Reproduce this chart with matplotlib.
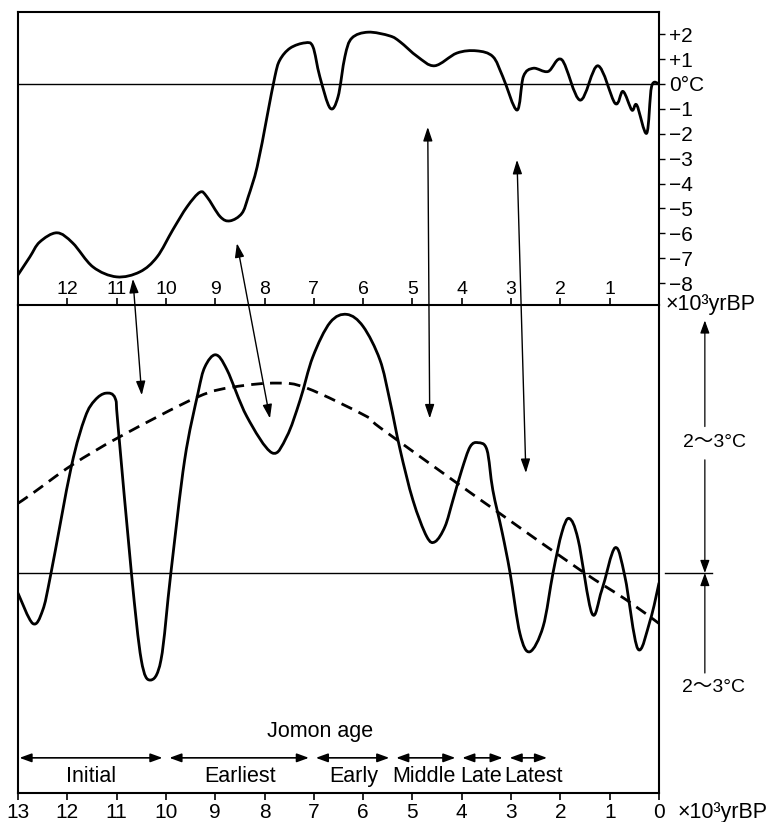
import numpy as np
import matplotlib
matplotlib.use("Agg")
import matplotlib.pyplot as plt
from matplotlib.path import Path
from matplotlib.patches import PathPatch

# fonts: Helvetica-like sans for the text, CJK family for the wave dash
plt.rcParams['font.family'] = ['Liberation Sans', 'Noto Sans CJK JP', 'DejaVu Sans']

####################################################################################################
# Data (x in 10^3 yr BP)
####################################################################################################

# upper panel: temperature curve (deg C)
airYears = [13.0, 12.76, 12.56, 12.21, 11.89, 11.48, 11.0, 10.53, 10.18, 9.86, 9.57, 9.31, 9.17,
            8.9, 8.7, 8.46, 8.33, 8.15, 7.95, 7.79, 7.69, 7.48, 7.18, 7.02, 6.88, 6.67, 6.51,
            6.37, 6.23, 5.9, 5.46, 5.25, 4.9, 4.55, 4.1, 3.7, 3.37, 3.17, 2.88, 2.75, 2.55, 2.25,
            1.97, 1.6, 1.24, 0.89, 0.73, 0.55, 0.45, 0.25, 0.15, 0.0]
airTemps = [-7.67, -6.95, -6.35, -5.98, -6.39, -7.35, -7.75, -7.55, -6.95, -5.86, -4.93, -4.35,
            -4.53, -5.33, -5.5, -5.2, -4.53, -3.33, -1.32, 0.3, 0.96, 1.44, 1.65, 1.5, 0.3, -0.97,
            -0.52, 1.1, 1.84, 2.08, 1.93, 1.69, 1.1, 0.73, 1.24, 1.33, 1.1, 0.3, -1.05, 0.3, 0.63,
            0.5, 0.97, -0.65, 0.73, -0.78, -0.3, -1.05, -0.85, -1.98, -0.1, 0.0]

# lower panel: relative temperature curve
seaYears = [13.0, 12.7, 12.5, 12.33, 11.92, 11.64, 11.44, 11.22, 11.03, 10.97, 10.7, 10.5, 10.32,
            10.1, 9.9, 9.62, 9.35, 9.21, 8.99, 8.76, 8.36, 7.85, 7.55, 7.28, 7.02, 6.67, 6.33,
            6.0, 5.66, 5.46, 5.25, 4.99, 4.71, 4.54, 4.34, 4.18, 4.0, 3.83, 3.67, 3.49, 3.37,
            3.18, 3.02, 2.82, 2.62, 2.35, 2.15, 1.97, 1.82, 1.64, 1.36, 1.16, 0.89, 0.69, 0.43,
            0.18, 0.0]
seaTemps = [-0.2, -0.5, -0.37, 0.0, 1.05, 1.54, 1.71, 1.78, 1.73, 1.45, 0.0, -0.86, -1.06,
            -0.86, 0.0, 1.12, 1.78, 2.04, 2.16, 2.01, 1.55, 1.19, 1.35, 1.71, 2.14, 2.48, 2.56,
            2.44, 2.11, 1.71, 1.22, 0.72, 0.36, 0.31, 0.46, 0.72, 1.02, 1.25, 1.29, 1.22, 0.82,
            0.4, 0.0, -0.6, -0.78, -0.53, 0.0, 0.4, 0.54, 0.33, -0.4, -0.17, 0.25, -0.04, -0.75,
            -0.47, -0.1]

# lower panel: dashed trend
trendYears = [13.0, 12.7, 11.9, 10.93, 9.37, 8.64, 7.75, 7.14, 5.93, 5.66, 4.04, 3.23, 1.6, 0.65, 0.0]
trendTemps = [0.69, 0.79, 1.07, 1.35, 1.74, 1.84, 1.88, 1.83, 1.55, 1.44, 0.87, 0.59, 0.03, -0.27, -0.5]

# axes ticks
topYearTicks = [12, 11, 10, 9, 8, 7, 6, 5, 4, 3, 2, 1]
topTempTicks = [2, 1, 0, -1, -2, -3, -4, -5, -6, -7, -8]
topTempLabels = ['+2', '+1', '0°C', '−1', '−2', '−3', '−4', '−5', '−6', '−7', '−8']
bottomYearTicks = [13, 12, 11, 10, 9, 8, 7, 6, 5, 4, 3, 2, 1, 0]

# Jomon periods
periodNames = ['Initial', 'Earliest', 'Early', 'Middle', 'Late', 'Latest']
periodBounds = [13.0, 10.0, 7.03, 5.4, 4.06, 3.1, 2.27]
periodLabelYears = [11.52, 8.5, 6.2, 4.77, 3.6, 2.54]

# arrows linking the two curves: (year top, temp top, year bottom, temp bottom)
linkArrows = [(10.67, -7.83, 10.49, 1.76),
              (8.56, -6.4, 7.89, 1.53),
              (4.69, -1.73, 4.65, 1.53),
              (2.88, -3.05, 2.70, 0.99)]


####################################################################################################
# Function: smooth curve through traced points (Catmull-Rom as cubic Bezier path)
####################################################################################################
def smoothPath(xs, ys):
    pts = np.column_stack([xs, ys]).astype(float)
    n = len(pts)
    verts = [pts[0]]
    codes = [Path.MOVETO]
    for i in range(n - 1):
        p0 = pts[max(i - 1, 0)]
        p1 = pts[i]
        p2 = pts[i + 1]
        p3 = pts[min(i + 2, n - 1)]
        verts += [p1 + (p2 - p0) / 6.0, p2 - (p3 - p1) / 6.0, p2]
        codes += [Path.CURVE4] * 3
    return Path(verts, codes)


def drawCurve(ax, xs, ys, **kw):
    patch = PathPatch(smoothPath(xs, ys), fill=False, edgecolor='black', joinstyle='round', **kw)
    ax.add_patch(patch)
    return patch


####################################################################################################
# Figure layout
####################################################################################################
fig = plt.figure(figsize=(7.69, 8.22), dpi=100, facecolor='white')
W, H = 769.0, 822.0
left, right = 18 / W, 659 / W
axTop = fig.add_axes([left, 1 - 305 / H, right - left, (305 - 12) / H])
axBot = fig.add_axes([left, 1 - 793 / H, right - left, (793 - 305) / H])

for ax in (axTop, axBot):
    ax.set_xlim(13, 0)
    ax.patch.set_visible(False)
    for s in ax.spines.values():
        s.set_linewidth(1.5)
axTop.set_ylim(-8.88, 2.89)
axBot.set_ylim(-2.178, 2.653)
axBot.spines['top'].set_visible(False)

# upper panel ticks
axTop.set_xticks(topYearTicks)
axTop.set_xticklabels([str(t) for t in topYearTicks])
axTop.tick_params(axis='x', direction='in', length=5, width=1.2, pad=-17, labelsize=14)
axTop.yaxis.tick_right()
axTop.set_yticks(topTempTicks)
axTop.set_yticklabels(topTempLabels)
axTop.tick_params(axis='y', direction='out', length=4.5, width=1.0, pad=3.0, labelsize=15)

# lower panel ticks
axBot.set_xticks(bottomYearTicks)
axBot.set_xticklabels([str(t) for t in bottomYearTicks])
axBot.tick_params(axis='x', direction='out', length=5, width=1.2, pad=2, labelsize=15)
axBot.set_yticks([])

# zero lines
axTop.axhline(0, color='black', lw=1.0)
axBot.axhline(0, color='black', lw=1.0)

# curves
drawCurve(axTop, airYears, airTemps, lw=2.0, capstyle='round')
drawCurve(axBot, seaYears, seaTemps, lw=2.0, capstyle='round')
drawCurve(axBot, trendYears, trendTemps, lw=2.0, capstyle='butt', linestyle=(0, (4.2, 2.6)))

# unit labels
axTop.text(1.0094, 0.002, '×10³yrBP', transform=axTop.transAxes, ha='left', va='center',
           fontsize=15.5)
axBot.text(-0.385, -2.37, '×10³yrBP', ha='left', va='center', fontsize=15.5, clip_on=False)

# right-hand 2~3 C scale
headKw = dict(arrowstyle='-|>,head_length=0.55,head_width=0.2', color='black', lw=0.9,
              shrinkA=0, shrinkB=0, mutation_scale=14)
xr = -0.93
axBot.plot([-0.12, -1.08], [0, 0], color='black', lw=1.0, clip_on=False)
axBot.annotate('', xy=(xr, 2.5), xytext=(xr, 1.45), arrowprops=headKw, annotation_clip=False)
axBot.annotate('', xy=(xr, 0.0), xytext=(xr, 1.12), arrowprops=headKw, annotation_clip=False)
axBot.annotate('', xy=(xr, 0.0), xytext=(xr, -0.99), arrowprops=headKw, annotation_clip=False)
axBot.text(-1.12, 1.29, '2〜3°C', ha='center', va='center', fontsize=14, clip_on=False)
axBot.text(-1.10, -1.13, '2〜3°C', ha='center', va='center', fontsize=14, clip_on=False)

# Jomon age periods
axBot.text(6.88, -1.57, 'Jomon age', ha='center', va='center', fontsize=15.5)
perKw = dict(arrowstyle='<|-|>,head_length=0.55,head_width=0.2', color='black', lw=1.2,
             shrinkA=0, shrinkB=0, mutation_scale=13)
gap = 0.07
for i, name in enumerate(periodNames):
    a = periodBounds[i] - (gap if i > 0 else 0.03)
    b = periodBounds[i + 1] + (gap if i < len(periodNames) - 1 else 0.0)
    axBot.annotate('', xy=(b, -1.83), xytext=(a, -1.83), arrowprops=perKw)
    axBot.text(periodLabelYears[i], -2.01, name, ha='center', va='center', fontsize=15.5)

# arrows linking the curves
linkKw = dict(arrowstyle='<|-|>,head_length=0.6,head_width=0.2', color='black', lw=1.0,
              shrinkA=0, shrinkB=0, mutation_scale=14)
for yTop, tTop, yBot, tBot in linkArrows:
    axTop.annotate('', xy=(yTop, tTop), xycoords=axTop.transData,
                   xytext=(yBot, tBot), textcoords=axBot.transData,
                   arrowprops=linkKw, annotation_clip=False)

fig.savefig('out.png', dpi=100, facecolor='white')
